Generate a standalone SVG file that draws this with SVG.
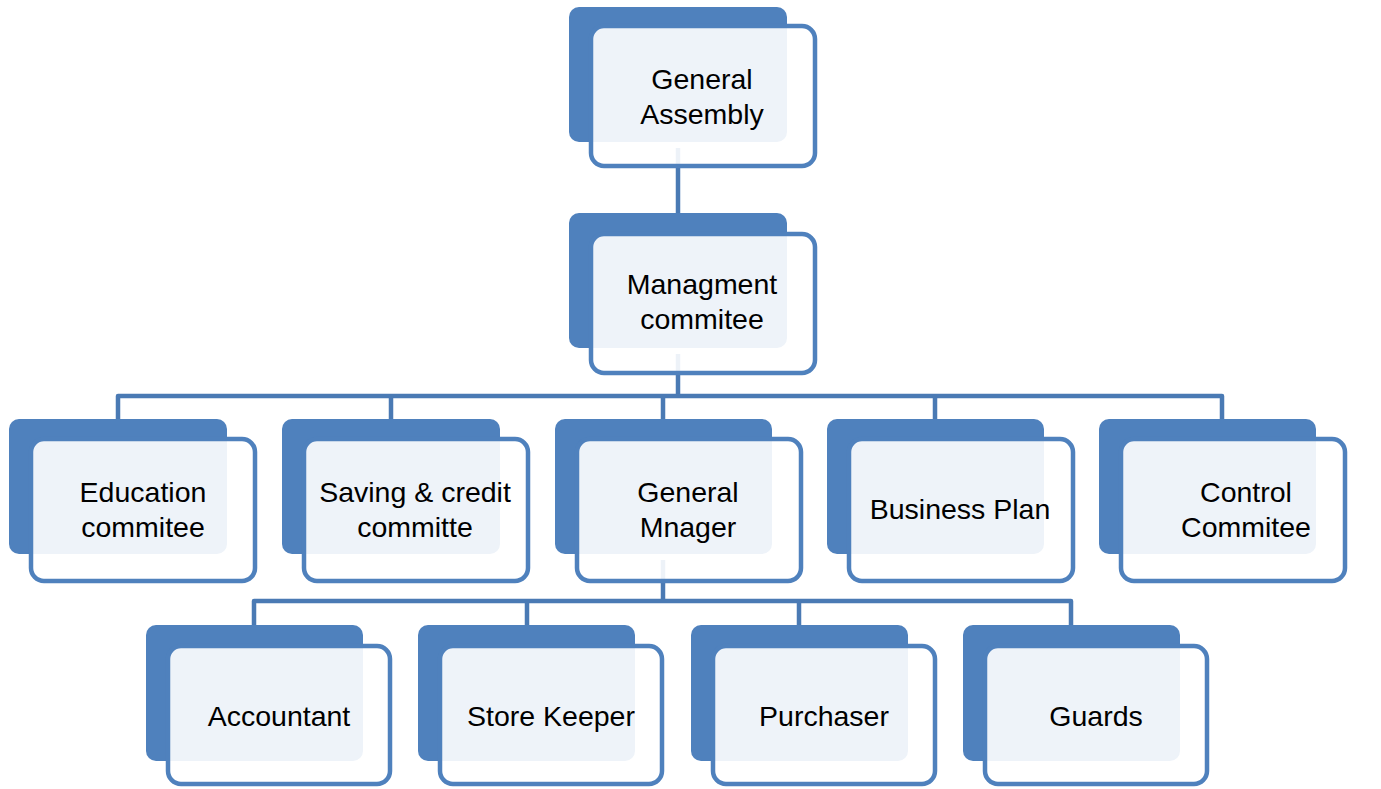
<svg xmlns="http://www.w3.org/2000/svg" width="1381" height="789" viewBox="0 0 1381 789">
<style>
.back{fill:#4F81BD}
.front{fill:#FFFFFF;fill-opacity:0.9;stroke:#4F81BD;stroke-width:4.5}
.conn{fill:none;stroke:#4A7AB4;stroke-width:4.5;stroke-linejoin:round}
text{font-family:"Liberation Sans",Arial,sans-serif;font-size:28.5px;fill:#000;text-anchor:middle}
</style>
<rect width="1381" height="789" fill="#FFFFFF"/>
<g id="connectors">
<path class="conn" d="M678 148V213"/>
<path class="conn" d="M678 354V396"/>
<path class="conn" d="M118 419V396H1222V419"/>
<path class="conn" d="M391 396V419M663 396V419M935 396V419"/>
<path class="conn" d="M663 560V601"/>
<path class="conn" d="M254 625V601H1071V625"/>
<path class="conn" d="M527 601V625M799 601V625"/>
</g>
<g id="general-assembly">
<rect class="back" x="569" y="7" width="218" height="135" rx="10"/>
<rect class="front" x="591" y="26" width="224" height="140" rx="13"/>
<text x="702" y="89">General</text>
<text x="702" y="124">Assembly</text>
</g>
<g id="managment-commitee">
<rect class="back" x="569" y="213" width="218" height="135" rx="10"/>
<rect class="front" x="591" y="234" width="224" height="139" rx="13"/>
<text x="702" y="294">Managment</text>
<text x="702" y="329">commitee</text>
</g>
<g id="education-commitee">
<rect class="back" x="9" y="419" width="218" height="135" rx="10"/>
<rect class="front" x="31" y="439" width="224" height="142" rx="13"/>
<text x="143" y="502">Education</text>
<text x="143" y="537">commitee</text>
</g>
<g id="saving-credit-committe">
<rect class="back" x="282" y="419" width="218" height="135" rx="10"/>
<rect class="front" x="304" y="439" width="224" height="142" rx="13"/>
<text x="415" y="502">Saving &amp; credit</text>
<text x="415" y="537">committe</text>
</g>
<g id="general-mnager">
<rect class="back" x="555" y="419" width="217" height="135" rx="10"/>
<rect class="front" x="577" y="439" width="224" height="142" rx="13"/>
<text x="688" y="502">General</text>
<text x="688" y="537">Mnager</text>
</g>
<g id="business-plan">
<rect class="back" x="827" y="419" width="217" height="135" rx="10"/>
<rect class="front" x="849" y="439" width="224" height="142" rx="13"/>
<text x="960" y="519">Business Plan</text>
</g>
<g id="control-commitee">
<rect class="back" x="1099" y="419" width="217" height="135" rx="10"/>
<rect class="front" x="1121" y="439" width="224" height="142" rx="13"/>
<text x="1246" y="502">Control</text>
<text x="1246" y="537">Commitee</text>
</g>
<g id="accountant">
<rect class="back" x="146" y="625" width="217" height="136" rx="10"/>
<rect class="front" x="168" y="646" width="222" height="138" rx="13"/>
<text x="279" y="726">Accountant</text>
</g>
<g id="store-keeper">
<rect class="back" x="418" y="625" width="217" height="136" rx="10"/>
<rect class="front" x="440" y="646" width="222" height="138" rx="13"/>
<text x="551" y="726">Store Keeper</text>
</g>
<g id="purchaser">
<rect class="back" x="691" y="625" width="217" height="136" rx="10"/>
<rect class="front" x="713" y="646" width="222" height="138" rx="13"/>
<text x="824" y="726">Purchaser</text>
</g>
<g id="guards">
<rect class="back" x="963" y="625" width="217" height="136" rx="10"/>
<rect class="front" x="985" y="646" width="222" height="138" rx="13"/>
<text x="1096" y="726">Guards</text>
</g>
</svg>
